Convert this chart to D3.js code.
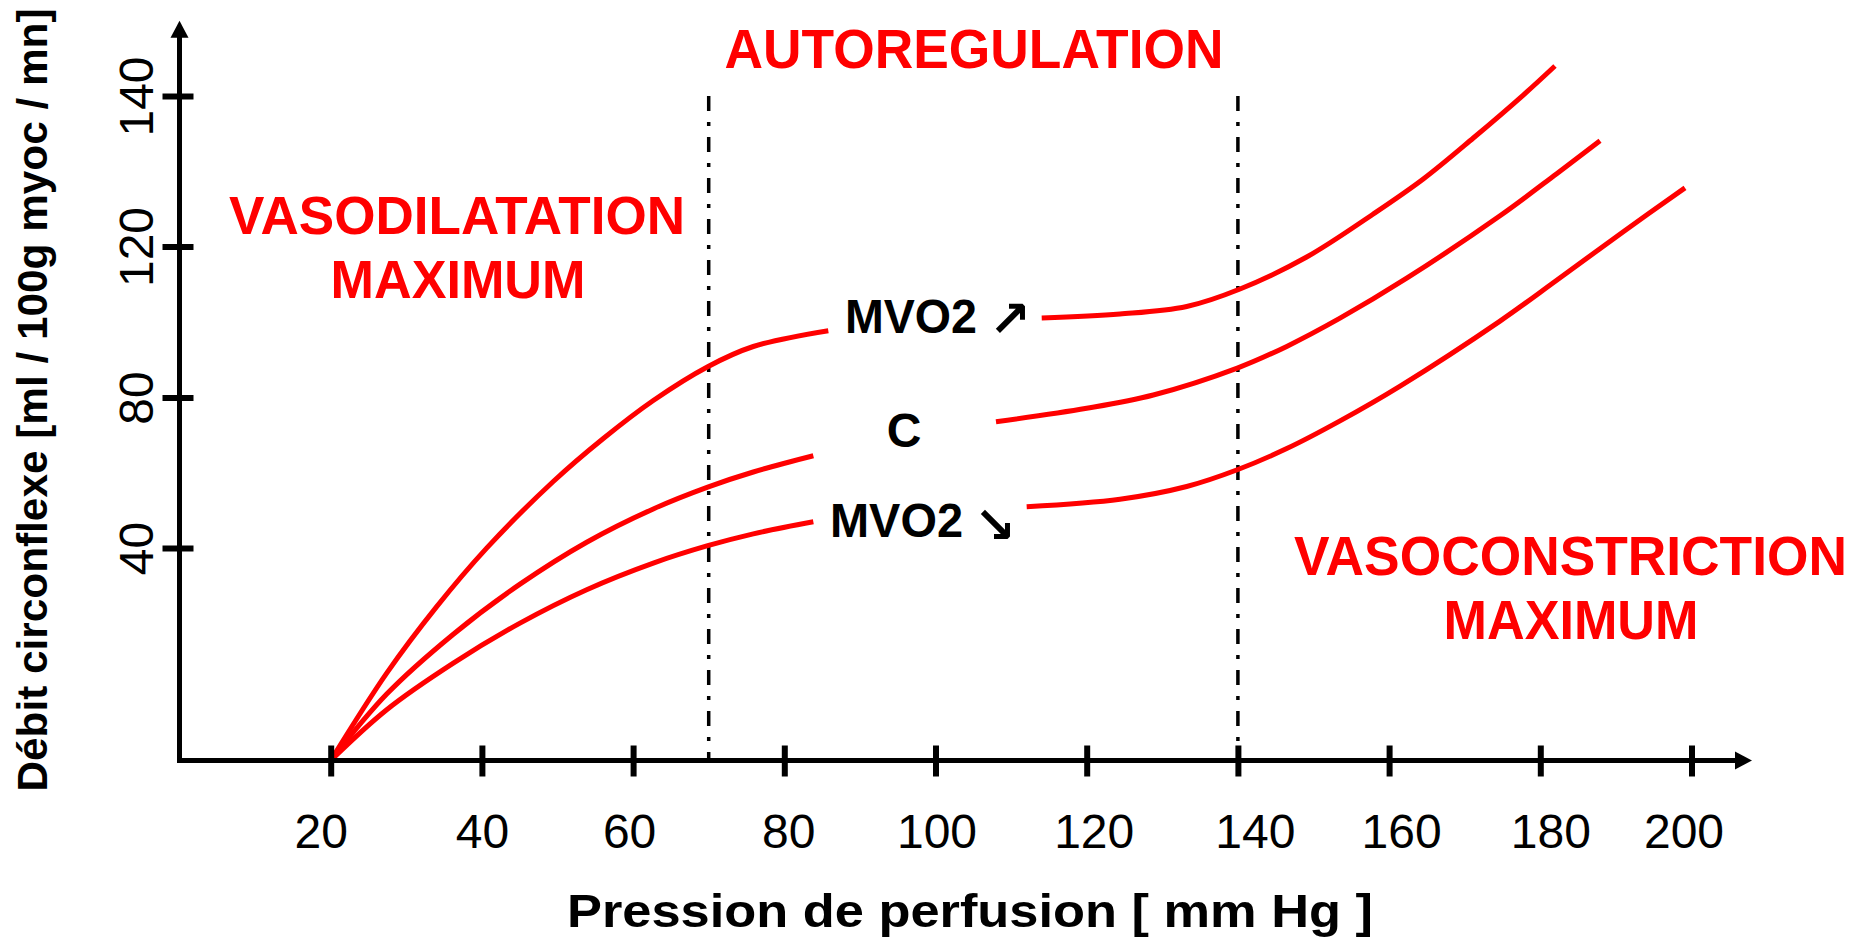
<!DOCTYPE html>
<html><head><meta charset="utf-8">
<script src="https://cdn.jsdelivr.net/npm/d3@7"></script>
<style>
html,body{margin:0;padding:0;background:#fff;}
svg{display:block;font-family:"Liberation Sans", Arial, Helvetica, sans-serif;}
</style></head><body>
<svg id="chart" width="1863" height="942"></svg>
<script>
// ---------- data ----------
const xTicks = [20, 40, 60, 80, 100, 120, 140, 160, 180, 200];
const yTicks = [40, 80, 120, 140];
const yTickLabels = ["40", "80", "120", "140"];
const yGraduations = [0, 40, 80, 120, 140];   // axis graduations (equal spacing above 40, as drawn)
const zoneLimits = [70, 140];
const xAxisMax = 208, yAxisMax = 150;

// MVO2 increased (upper curve) : [pressure, flow]
const upperLeft  = [[20,0],[27.41,16.45],[34.02,28.97],[40.63,39.98],[49.44,57.68],[56.06,69.11],[62.67,79.21],[69.87,88.16],[75.90,93.51],[85.82,97.70]];
const upperRight = [[114.05,101.06],[124.40,102.12],[133.23,104.11],[140.28,108.74],[149.10,117.22],[157.91,124.32],[164.52,128.97],[171.14,134.42],[177.75,140.13],[181.94,143.99]];
// Control (middle curve)
const controlLeft  = [[20,0],[27.41,12.50],[36.22,23.77],[45.04,33.19],[53.86,41.54],[62.67,50.39],[69.87,56.19],[75.90,60.20],[83.84,64.51]];
const controlRight = [[108.00,73.57],[120.00,77.13],[128.81,80.66],[139.92,87.79],[146.46,93.54],[153.51,101.01],[162.33,111.60],[174.67,124.09],[182.17,129.68],[187.90,134.05]];
// MVO2 decreased (lower curve)
const lowerLeft  = [[20,0],[27.41,9.56],[36.22,18.33],[45.04,25.86],[53.86,32.15],[62.67,37.16],[69.87,40.61],[75.90,43.77],[83.84,46.96]];
const lowerRight = [[112.06,50.98],[124.40,52.97],[133.23,56.35],[139.92,60.79],[146.46,66.42],[153.51,73.78],[161.46,83.02],[174.67,100.24],[182.17,111.05],[190.98,121.97],[199.14,127.79]];

const curveSegments = [upperLeft, upperRight, controlLeft, controlRight, lowerLeft, lowerRight];

// ---------- layout ----------
const xLabelNudge = [-10, 0, -4, 4, 1, 7, 17, 12, 10, -8];   // hand placement of tick labels in the original

// ---------- scales ----------
const svg = d3.select("#chart");
const x = d3.scaleLinear().domain([0, 200]).range([179.5, 1691.5]);
const y = d3.scaleLinear().domain(yGraduations).range([760.5, 548, 397.5, 246.5, 96]);

const RED = "#ff0000";

// ---------- zone limits (dash-dot) ----------
svg.selectAll("line.zone").data(zoneLimits).join("line")
  .attr("class", "zone")
  .attr("x1", d => x(d)).attr("x2", d => x(d))
  .attr("y1", y(140)).attr("y2", y(0))
  .attr("stroke", "#000").attr("stroke-width", 3.5)
  .attr("stroke-dasharray", "15 11 4 11");

// ---------- curves ----------
const line = d3.line().x(d => x(d[0])).y(d => y(d[1])).curve(d3.curveCatmullRom.alpha(0.5));
svg.selectAll("path.curve").data(curveSegments).join("path")
  .attr("class", "curve")
  .attr("d", line)
  .attr("fill", "none").attr("stroke", RED).attr("stroke-width", 5)
  .attr("stroke-linecap", "butt");

// ---------- axes ----------
const xAxis = d3.axisBottom(x).tickValues(xTicks).tickSize(16).tickFormat(d3.format("d"));
const gx = svg.append("g").attr("transform", `translate(0,${y(0)})`).call(xAxis);
gx.select(".domain").remove();
gx.selectAll(".tick line").attr("y1", -15).attr("y2", 16).attr("stroke", "#000").attr("stroke-width", 6);
gx.selectAll(".tick text").attr("y", 87.5).attr("dy", 0)
  .attr("x", (d, i) => xLabelNudge[i])
  .attr("font-size", 48).attr("fill", "#000")
  .attr("font-family", "'Liberation Sans', Arial, sans-serif");

const yAxis = d3.axisLeft(y).tickValues(yTicks).tickSize(17).tickFormat((d, i) => yTickLabels[i]);
const gy = svg.append("g").attr("transform", `translate(${x(0)},0)`).call(yAxis);
gy.select(".domain").remove();
gy.selectAll(".tick line").attr("x1", -17).attr("x2", 14).attr("stroke", "#000").attr("stroke-width", 6);
gy.selectAll(".tick text")
  .attr("x", null).attr("dy", 0)
  .attr("transform", "translate(-27,0) rotate(-90)")
  .attr("text-anchor", "middle")
  .attr("font-size", 48).attr("fill", "#000")
  .attr("font-family", "'Liberation Sans', Arial, sans-serif");

// axis lines with arrowheads
const x0 = x(0), y0 = y(0), xTip = x(xAxisMax), yTip = y(yAxisMax);
svg.append("line").attr("x1", x0 - 2.5).attr("x2", xTip - 12).attr("y1", y0).attr("y2", y0)
  .attr("stroke", "#000").attr("stroke-width", 5);
svg.append("path").attr("d", `M${xTip},${y0} L${xTip - 17},${y0 - 9} L${xTip - 17},${y0 + 9} Z`).attr("fill", "#000");
svg.append("line").attr("x1", x0).attr("x2", x0).attr("y1", y0 + 2.5).attr("y2", yTip + 12)
  .attr("stroke", "#000").attr("stroke-width", 5);
svg.append("path").attr("d", `M${x0},${yTip} L${x0 - 9},${yTip + 17} L${x0 + 9},${yTip + 17} Z`).attr("fill", "#000");

// ---------- axis titles ----------
svg.append("text").attr("x", 970).attr("y", 926.7).attr("text-anchor", "middle")
  .attr("font-size", 47).attr("font-weight", "bold")
  .attr("textLength", 806).attr("lengthAdjust", "spacingAndGlyphs")
  .text("Pression de perfusion [ mm Hg ]");

svg.append("text").attr("transform", "translate(47,400) rotate(-90)").attr("text-anchor", "middle")
  .attr("font-size", 42).attr("font-weight", "bold")
  .attr("textLength", 783).attr("lengthAdjust", "spacingAndGlyphs")
  .text("Débit circonflexe [ml / 100g myoc / mn]");

// ---------- zone labels ----------
const redLabel = (tx, ty, fs, len, str) => svg.append("text")
  .attr("x", tx).attr("y", ty).attr("text-anchor", "middle")
  .attr("font-size", fs).attr("font-weight", "bold").attr("fill", RED)
  .attr("textLength", len).attr("lengthAdjust", "spacingAndGlyphs").text(str);
redLabel(974, 68, 55, 499, "AUTOREGULATION");
redLabel(457, 234, 54, 456, "VASODILATATION");
redLabel(458, 298, 54, 255, "MAXIMUM");
redLabel(1570.5, 575, 55, 553, "VASOCONSTRICTION");
redLabel(1571, 639, 55, 255, "MAXIMUM");

// ---------- curve labels ----------
const blackLabel = (tx, ty, anchor, len, str) => {
  const t = svg.append("text").attr("x", tx).attr("y", ty).attr("text-anchor", anchor)
    .attr("font-size", 48).attr("font-weight", "bold").attr("fill", "#000").text(str);
  if (len) t.attr("textLength", len).attr("lengthAdjust", "spacingAndGlyphs");
  return t;
};
blackLabel(845, 333, "start", 132, "MVO2");
blackLabel(904, 447, "middle", null, "C");
blackLabel(830, 537, "start", 133, "MVO2");

const arrowLabel = (tx, ty, str) => svg.append("text")
  .attr("x", tx).attr("y", ty).attr("text-anchor", "middle")
  .attr("font-family", "'DejaVu Sans', sans-serif").attr("font-weight", "bold")
  .attr("font-size", 50).attr("fill", "#000").text(str);
arrowLabel(1010, 335.5, "↗");
arrowLabel(995, 541.5, "↘");
</script>
</body></html>
